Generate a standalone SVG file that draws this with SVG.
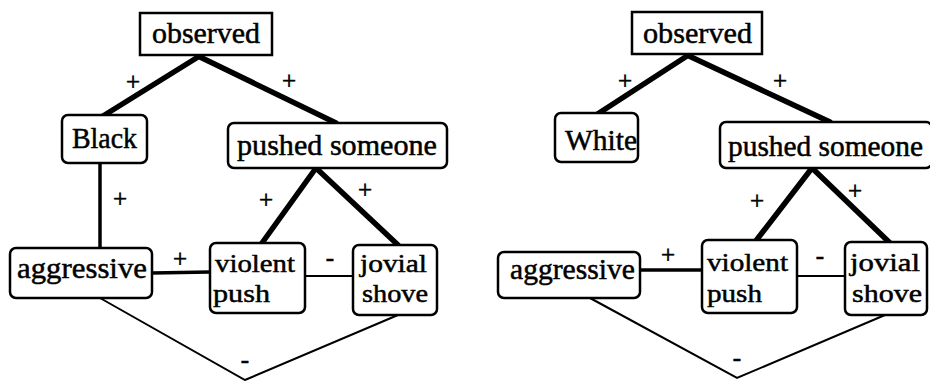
<svg xmlns="http://www.w3.org/2000/svg" width="930" height="381" viewBox="0 0 930 381" font-family="Liberation Serif, Times New Roman, serif">
<style>
.box{fill:#fff;stroke:#000;stroke-width:2.5}
.t{font-size:30px;fill:#000;stroke:#000;stroke-width:0.5}
.t2{font-size:26px;fill:#000;stroke:#000;stroke-width:0.5}
.s{font-size:25px;fill:#000;stroke:#000;stroke-width:0.6;text-anchor:middle}
.thick{stroke:#000;stroke-width:5.5;fill:none;stroke-linecap:round}
.med{stroke:#000;stroke-width:3.5;fill:none}
.thin{stroke:#000;stroke-width:2;fill:none}
</style>
<rect width="930" height="381" fill="#fff"/>
<g id="connectors" font-family="Liberation Serif">
  <line class="thick" x1="198" y1="57" x2="103" y2="116"/>
  <line class="thick" x1="200" y1="57" x2="336" y2="123"/>
  <line class="med" x1="100" y1="163" x2="100" y2="249"/>
  <line class="thick" x1="316" y1="168" x2="262" y2="243"/>
  <line class="thick" x1="316" y1="168" x2="398" y2="245"/>
  <line class="med" x1="152" y1="273" x2="210" y2="272"/>
  <line class="thin" x1="305" y1="276" x2="353" y2="276"/>
  <polyline class="thin" points="100,298 245,380 398,315"/>
  <text class="s" x="133" y="90">+</text>
  <text class="s" x="289" y="89">+</text>
  <text class="s" x="120" y="207">+</text>
  <text class="s" x="266" y="208">+</text>
  <text class="s" x="365" y="198">+</text>
  <text class="s" x="180" y="267">+</text>
  <text class="s" x="330" y="266">-</text>
  <text class="s" x="245" y="368">-</text>

  <line class="thick" x1="687" y1="56" x2="596" y2="115"/>
  <line class="thick" x1="689" y1="56" x2="830" y2="122"/>
  <line class="thick" x1="812" y1="168" x2="755" y2="242"/>
  <line class="thick" x1="812" y1="168" x2="890" y2="243"/>
  <line class="med" x1="640" y1="270" x2="702" y2="270"/>
  <line class="thin" x1="797" y1="276" x2="845" y2="276"/>
  <polyline class="thin" points="590,298 737,378 885,315"/>
  <text class="s" x="625" y="89">+</text>
  <text class="s" x="780" y="89">+</text>
  <text class="s" x="757" y="209">+</text>
  <text class="s" x="855" y="199">+</text>
  <text class="s" x="668" y="263">+</text>
  <text class="s" x="820" y="264">-</text>
  <text class="s" x="737" y="366">-</text>
</g>
<g font-family="Liberation Serif">
<g id="L-observed"><rect class="box" x="140" y="13" width="132" height="42"/><text class="t" x="152" y="43" textLength="108" lengthAdjust="spacingAndGlyphs">observed</text></g>
<g id="L-black"><rect class="box" x="62" y="115" width="85" height="48" rx="6"/><text class="t" x="72" y="148" textLength="65" lengthAdjust="spacingAndGlyphs">Black</text></g>
<g id="L-pushed"><rect class="box" x="228" y="123" width="219" height="45" rx="6"/><text class="t" x="237" y="155" textLength="200" lengthAdjust="spacingAndGlyphs">pushed someone</text></g>
<g id="L-aggressive"><rect class="box" x="10" y="248" width="142" height="50" rx="6"/><text class="t" x="17" y="278" textLength="130" lengthAdjust="spacingAndGlyphs">aggressive</text></g>
<g id="L-violent"><rect class="box" x="210" y="243" width="95" height="70" rx="6"/><text class="t2" x="215" y="272" textLength="80" lengthAdjust="spacingAndGlyphs">violent</text><text class="t2" x="213" y="302" textLength="57" lengthAdjust="spacingAndGlyphs">push</text></g>
<g id="L-jovial"><rect class="box" x="353" y="245" width="84" height="70" rx="6"/><text class="t2" x="360" y="272" textLength="67" lengthAdjust="spacingAndGlyphs">jovial</text><text class="t2" x="362" y="302" textLength="66" lengthAdjust="spacingAndGlyphs">shove</text></g>

<g id="R-observed"><rect class="box" x="632" y="12" width="130" height="42"/><text class="t" x="643" y="43" textLength="109" lengthAdjust="spacingAndGlyphs">observed</text></g>
<g id="R-white"><rect class="box" x="555" y="113" width="83" height="49" rx="6"/><text class="t" x="565" y="150" textLength="72" lengthAdjust="spacingAndGlyphs">White</text></g>
<g id="R-pushed"><rect class="box" x="720" y="122" width="212" height="46" rx="6"/><text class="t" x="728" y="156" textLength="195" lengthAdjust="spacingAndGlyphs">pushed someone</text></g>
<g id="R-aggressive"><rect class="box" x="498" y="252" width="142" height="46" rx="6"/><text class="t" x="510" y="279" textLength="125" lengthAdjust="spacingAndGlyphs">aggressive</text></g>
<g id="R-violent"><rect class="box" x="702" y="240" width="95" height="73" rx="6"/><text class="t2" x="707" y="271" textLength="81" lengthAdjust="spacingAndGlyphs">violent</text><text class="t2" x="707" y="302" textLength="55" lengthAdjust="spacingAndGlyphs">push</text></g>
<g id="R-jovial"><rect class="box" x="845" y="242" width="82" height="73" rx="6"/><text class="t2" x="850" y="271" textLength="70" lengthAdjust="spacingAndGlyphs">jovial</text><text class="t2" x="852" y="302" textLength="70" lengthAdjust="spacingAndGlyphs">shove</text></g>
</g>
</svg>
